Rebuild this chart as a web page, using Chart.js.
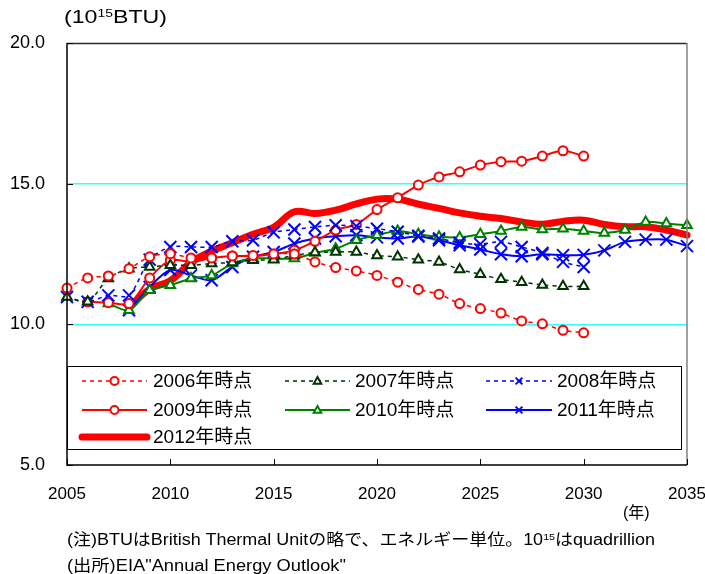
<!DOCTYPE html>
<html><head><meta charset="utf-8">
<script src="https://cdn.jsdelivr.net/npm/chart.js@4.4.1/dist/chart.umd.min.js"></script>
<style>
html,body{margin:0;padding:0;background:#fff;}
#wrap{position:relative;width:705px;height:574px;overflow:hidden;font-family:"Liberation Sans",Arial,"Noto Sans CJK JP",sans-serif;color:#000;}
#c{position:absolute;left:0;top:0;}
.t{position:absolute;white-space:nowrap;line-height:1;transform-origin:0 0;}
sup{font-size:0.6em;position:relative;top:-0.55em;vertical-align:baseline;line-height:0;}
</style></head><body>
<div id="wrap">
<canvas id="c" width="705" height="574"></canvas>
<div class="t" id="unit" style="left:64px;top:8px;font-size:18px;">(10<sup>15</sup>BTU)</div>
<div class="t" id="nen" style="left:623px;top:505px;font-size:16px;">(年)</div>
<div class="t" id="n1" style="left:67px;top:532px;font-size:16px;">(注)BTUはBritish Thermal Unitの略で、エネルギー単位。10<sup>15</sup>はquadrillion</div>
<div class="t" id="n2" style="left:67px;top:558px;font-size:16px;">(出所)EIA"Annual Energy Outlook"</div>
</div>
<script>
// ---- data ----
const years = [2005,2006,2007,2008,2009,2010,2011,2012,2013,2014,2015,2016,2017,2018,2019,2020,
  2021,2022,2023,2024,2025,2026,2027,2028,2029,2030,2031,2032,2033,2034,2035];
const seriesNames = ["2006年時点","2007年時点","2008年時点","2009年時点","2010年時点","2011年時点","2012年時点"];
const aeo2006 = [11.29,11.65,11.72,11.98,12.4,12.51,12.36,12.36,12.43,12.45,12.5,12.5,12.22,12.02,11.9,11.74,
  11.5,11.24,11.07,10.74,10.56,10.4,10.12,10.02,9.79,9.7,null,null,null,null,null];
const aeo2007 = [10.97,10.8,11.63,11.98,12.04,12.1,12.1,12.16,12.2,12.28,12.3,12.45,12.55,12.57,12.57,12.45,
  12.4,12.3,12.22,11.95,11.78,11.6,11.5,11.4,11.35,11.35,null,null,null,null,null];
const aeo2008 = [10.97,10.8,11.03,11.03,12.3,12.75,12.75,12.75,12.95,12.99,13.27,13.37,13.46,13.52,13.49,13.4,
  13.29,13.15,13.05,12.9,12.85,12.93,12.75,12.54,12.22,12.04,null,null,null,null,null];
const aeo2009 = [null,10.8,10.77,10.74,11.65,12.28,12.22,12.36,12.43,12.42,12.5,12.63,12.95,13.35,13.55,14.08,
  14.5,14.95,15.24,15.42,15.66,15.78,15.8,15.98,16.17,15.98,null,null,null,null,null];
const aeo2010 = [null,null,10.74,10.5,11.21,11.39,11.63,11.74,12.16,12.34,12.34,12.34,12.54,12.69,12.99,13.17,
  13.32,13.2,13.11,13.09,13.2,13.32,13.46,13.37,13.4,13.32,13.25,13.35,13.64,13.58,13.52];
const aeo2011 = [null,null,null,10.5,11.33,11.93,11.74,11.57,12.04,12.4,12.57,12.87,13.05,13.13,13.17,13.09,
  13.05,13.12,12.99,12.81,12.66,12.49,12.42,12.49,12.46,12.47,12.63,12.93,13.01,13.01,12.78];
const aeo2012 = [null,null,null,10.6,11.25,11.55,12.2,12.6,12.9,13.2,13.45,14.0,13.94,14.06,14.28,14.45,
  14.45,14.27,14.12,13.96,13.84,13.76,13.64,13.56,13.66,13.7,13.55,13.47,13.47,13.35,13.17];
const yTicks = [5,10,15,20];
const xTicks = [2005,2010,2015,2020,2025,2030,2035];

const pts = arr => years.map((y,i)=>({x:y,y:arr[i]}));
const FONT = '"Liberation Sans", Arial, "Noto Sans CJK JP", sans-serif';
const RED='#ff0000', DKG='#003300', GRN='#008000', BLU='#0000ff';

function ds(label, arr, color, dash, style, width, radius){
  return {label, data: pts(arr), borderColor: color, backgroundColor: '#ffffff',
    borderWidth: width, borderDash: dash, pointStyle: style, pointRadius: radius,
    pointBorderColor: color, pointBackgroundColor: '#ffffff', pointBorderWidth: 2,
    tension: 0.3, spanGaps: false, clip: false};
}
const datasets = [
  ds(seriesNames[0], aeo2006, RED, [4,4], 'circle', 1.5, 4.5),
  ds(seriesNames[1], aeo2007, DKG, [4,4], 'triangle', 1.5, 5.5),
  ds(seriesNames[2], aeo2008, BLU, [4,4], 'crossRot', 1.5, 8.5),
  ds(seriesNames[3], aeo2009, RED, [], 'circle', 2, 4.5),
  ds(seriesNames[4], aeo2010, GRN, [], 'triangle', 2, 5.5),
  ds(seriesNames[5], aeo2011, BLU, [], 'crossRot', 2, 8.5),
  Object.assign(ds(seriesNames[6], aeo2012, RED, [], false, 7, 0), {borderCapStyle:'round', tension:0.4})
];

function drawMarker(ctx, style, x, y, r, color){
  ctx.save();
  ctx.strokeStyle = color; ctx.fillStyle = '#fff'; ctx.lineWidth = 2; ctx.setLineDash([]);
  ctx.beginPath();
  if (style === 'circle') { ctx.arc(x,y,r,0,Math.PI*2); ctx.fill(); ctx.stroke(); }
  else if (style === 'triangle') {
    ctx.moveTo(x, y-r); ctx.lineTo(x+r*0.95, y+r*0.7); ctx.lineTo(x-r*0.95, y+r*0.7); ctx.closePath();
    ctx.fill(); ctx.stroke();
  } else if (style === 'crossRot') {
    const d = r*0.85; ctx.moveTo(x-d,y-d); ctx.lineTo(x+d,y+d); ctx.moveTo(x+d,y-d); ctx.lineTo(x-d,y+d); ctx.stroke();
  }
  ctx.restore();
}

const framePlugin = {
  id: 'frame',
  afterDatasetsDraw(chart){
    const {ctx, chartArea:a, scales:{x, y}} = chart;
    ctx.save();
    ctx.setLineDash([]);
    ctx.strokeStyle = '#203030'; ctx.lineWidth = 1.5;
    ctx.beginPath(); ctx.moveTo(a.left, a.top+0.5); ctx.lineTo(a.right, a.top+0.5); ctx.stroke();
    ctx.strokeStyle = '#808080'; ctx.lineWidth = 1.5;
    ctx.beginPath(); ctx.moveTo(a.right, a.top); ctx.lineTo(a.right, a.bottom); ctx.stroke();
    ctx.strokeStyle = '#000'; ctx.lineWidth = 1.5;
    ctx.beginPath(); ctx.moveTo(a.left, a.top); ctx.lineTo(a.left, a.bottom); ctx.lineTo(a.right, a.bottom); ctx.stroke();
    ctx.lineWidth = 1;
    yTicks.forEach(v => { const py = Math.round(y.getPixelForValue(v))+0.5;
      ctx.beginPath(); ctx.moveTo(a.left, py); ctx.lineTo(a.left+6, py); ctx.stroke(); });
    xTicks.forEach(v => { const px = Math.round(x.getPixelForValue(v))+0.5;
      ctx.beginPath(); ctx.moveTo(px, a.bottom); ctx.lineTo(px, a.bottom-6); ctx.stroke(); });

    // legend box
    const L = {x0:67, y0:366, x1:681, y1:449};
    ctx.fillStyle = '#fff'; ctx.fillRect(L.x0, L.y0, L.x1-L.x0, L.y1-L.y0);
    ctx.strokeStyle = '#000'; ctx.lineWidth = 1;
    ctx.strokeRect(L.x0+0.5, L.y0+0.5, L.x1-L.x0, L.y1-L.y0);
    const cols = [[82,147,153],[285,350,355],[486,552,557]];
    const rows = [381, 410, 437];
    ctx.font = '19px ' + FONT; ctx.textBaseline = 'middle'; ctx.textAlign = 'left';
    chart.data.datasets.forEach((d, i) => {
      const c = cols[i % 3], ry = rows[Math.floor(i/3)];
      ctx.save();
      ctx.strokeStyle = d.borderColor; ctx.lineWidth = d.borderWidth;
      ctx.setLineDash(d.borderDash || []);
      ctx.lineCap = d.borderCapStyle || 'butt';
      ctx.beginPath(); ctx.moveTo(c[0], ry); ctx.lineTo(c[1], ry); ctx.stroke();
      ctx.restore();
      if (d.pointStyle) drawMarker(ctx, d.pointStyle, (c[0]+c[1])/2, ry, 4, d.borderColor);
      ctx.fillStyle = '#000';
      ctx.fillText(d.label, c[2], ry+1);
    });
    ctx.restore();
  }
};

new Chart(document.getElementById('c'), {
  type: 'line',
  data: { datasets },
  options: {
    responsive: false, devicePixelRatio: 1, animation: false,
    layout: { padding: { left: 0, top: 43, right: 18, bottom: 69 } },
    plugins: { legend: { display: false }, tooltip: { enabled: false } },
    scales: {
      x: { type: 'linear', min: 2005, max: 2035,
        afterFit(s){ s.height = 40; s.paddingLeft = 0; s.paddingRight = 0; },
        afterBuildTicks(s){ s.ticks = xTicks.map(v=>({value:v})); },
        grid: { display: false, drawTicks: false }, border: { display: false },
        ticks: { padding: 19, color: '#000', font: { family: FONT, size: 17 }, maxRotation: 0,
          callback: v => String(v) } },
      y: { min: 5, max: 20,
        afterFit(s){ s.width = 67; },
        afterBuildTicks(s){ s.ticks = yTicks.map(v=>({value:v})); },
        grid: { drawTicks: false, lineWidth: 1.5,
          color: c => (c.tick && (c.tick.value === 10 || c.tick.value === 15)) ? '#33ffff' : 'rgba(0,0,0,0)' },
        border: { display: false },
        ticks: { padding: 22, color: '#000', font: { family: FONT, size: 18 },
          callback: v => Number(v).toFixed(1) } }
    }
  },
  plugins: [framePlugin]
});

function fit(id, w){ const el = document.getElementById(id); const ow = el.getBoundingClientRect().width;
  if (ow > 0) el.style.transform = 'scaleX(' + (w/ow) + ')'; }
fit('n1', 588); fit('n2', 279); fit('unit', 103);
</script>
</body></html>
